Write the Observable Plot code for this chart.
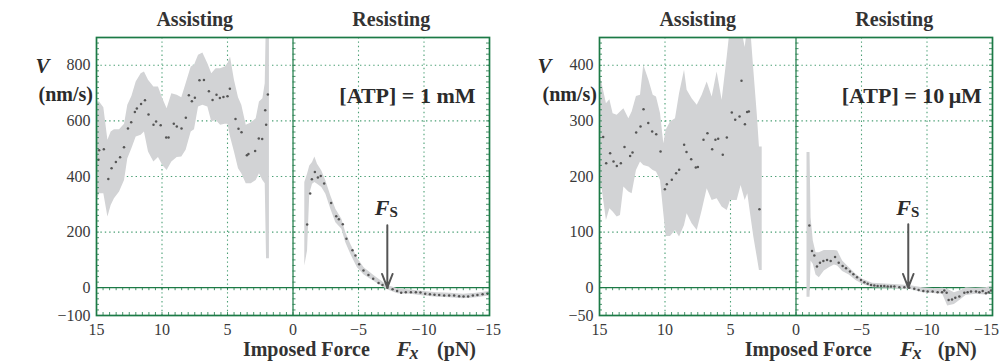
<!DOCTYPE html>
<html><head><meta charset="utf-8">
<script src="https://cdn.jsdelivr.net/npm/d3@7"></script>
<script src="https://cdn.jsdelivr.net/npm/@observablehq/plot@0.6"></script>
<style>
body{margin:0;background:#fff;}
#wrap{position:relative;width:1001px;height:362px;overflow:hidden;background:#fff;}
#p1{position:absolute;left:0;top:0;}
#p2{position:absolute;left:500px;top:0;}
svg, svg text{font-family:"Liberation Serif","Times New Roman",serif !important;}
</style></head><body><div id="wrap"><div id="p1"></div><div id="p2"></div></div>
<script>
// ---------- shared axis ticks ----------
const xTicks = [15, 10, 5, 0, -5, -10, -15];
const xGrid = [10, 5, -5, -10];
const regionLabels = ["Assisting", "Resisting"];
const regionF = [7.5, -7.5];

// ---------- [ATP] = 1 mM ----------
const mM_yTicks = [-100, 0, 200, 400, 600, 800];
const mM_yGrid = [200, 400, 600, 800];
const mM_ptsF = [14.85,14.80,14.44,14.10,13.85,13.52,13.20,12.90,12.60,12.35,12.07,11.92,11.60,11.30,11.03,10.65,10.45,10.10,9.68,9.50,9.10,8.87,8.51,8.18,7.95,7.72,7.49,7.14,6.80,6.42,6.14,5.84,5.58,5.31,5.00,4.82,4.39,4.16,3.93,3.52,3.40,2.89,2.61,2.35,2.12,2.05,1.92,
  -1.08,-1.31,-1.44,-1.67,-1.90,-2.12,-2.38,-2.91,-3.30,-3.50,-3.80,-4.08,-4.54,-4.77,-5.05,-5.38,-5.76,-6.12,-6.53,-6.83,-7.21,-7.60,-7.95,-8.26,-8.61,-9.00,-9.38,-9.73,-10.09,-10.45,-10.80,-11.16,-11.54,-11.92,-12.30,-12.68,-13.02,-13.37,-13.73,-14.08,-14.47,-14.85];
const mM_ptsV = [460,494,498,391,430,452,469,505,573,595,632,645,661,674,623,586,598,584,540,540,590,580,573,611,692,671,683,746,747,707,675,694,682,686,689,716,607,572,559,476,481,492,537,535,638,586,695,
  227,339,390,416,396,402,375,305,257,246,228,176,135,116,84,62,46,32,17,10,0,-6,-12,-18,-16,-16,-16,-17,-22,-24,-25,-26,-28,-28,-28,-31,-32,-32,-28,-26,-24,-22];
const mM_bandAF  = [15.0,14.77,14.44,14.13,13.88,13.63,13.24,12.86,12.61,12.30,11.97,11.59,11.34,11.03,10.62,10.27,9.94,9.61,9.25,8.84,8.49,8.16,7.77,7.52,7.21,6.88,6.50,6.20,5.87,5.53,5.18,4.97,4.77,4.47,4.16,3.91,3.57,3.19,2.81,2.56,2.30,2.12,2.02,1.80];
const mM_bandALo = [308,338,338,254,296,320,344,386,464,500,542,548,560,488,452,468,440,422,452,468,470,494,560,568,650,656,650,596,602,584,588,588,542,488,428,410,374,374,386,410,386,374,104,104];
const mM_bandAHi = [668,668,647,530,560,568,568,588,656,688,740,770,776,746,722,722,680,644,698,692,683,734,794,800,836,844,806,770,788,788,794,806,830,746,683,656,584,592,608,668,680,734,1000,1000];
const mM_bandRF  = [-0.90,-1.11,-1.28,-1.49,-1.67,-1.87,-2.20,-2.51,-2.89,-3.27,-3.73,-4.03,-4.41,-4.92,-5.43,-6.20,-7.21,-8.0,-9.0,-10.0,-11.0,-12.0,-13.0,-14.0,-15.0];
const mM_bandRLo = [78,132,336,372,378,372,360,336,282,234,210,162,120,72,46,22,-7,-22,-24,-30,-34,-36,-40,-36,-30];
const mM_bandRHi = [378,408,438,450,470,444,420,384,330,282,246,198,156,106,72,43,8,-4,-8,-14,-18,-20,-24,-20,-14];
const mM_fs = [{f: -7.2, top: 225}];

// ---------- [ATP] = 10 µM ----------
const uM_yTicks = [-50, 0, 100, 200, 300, 400];
const uM_yGrid = [100, 200, 300, 400];
const uM_ptsF = [14.72,14.49,14.19,13.93,13.68,13.37,13.09,12.66,12.48,12.20,11.87,11.64,11.28,10.98,10.67,10.34,10.01,9.86,9.48,9.15,8.92,8.54,8.36,8.00,7.65,7.49,7.06,6.76,6.40,6.15,5.94,5.59,5.28,4.90,4.64,4.31,4.16,3.90,3.73,3.60,2.79,
  -1.02,-1.22,-1.40,-1.60,-1.83,-2.09,-2.37,-2.65,-2.98,-3.26,-3.56,-3.82,-4.12,-4.38,-4.66,-4.96,-5.22,-5.47,-5.73,-5.98,-6.23,-6.49,-6.74,-7.00,-7.25,-7.51,-7.89,-8.27,-8.65,-9.03,-9.36,-9.72,-10.05,-10.43,-10.81,-11.15,-11.32,-11.50,-11.65,-11.91,-12.16,-12.47,-12.85,-13.10,-13.36,-13.74,-14.00,-14.25,-14.50,-14.71,-14.89];
const uM_ptsV = [271,224,242,227,219,224,253,237,243,279,290,321,296,281,276,245,177,186,194,206,212,257,244,231,216,217,266,278,249,266,268,239,270,315,302,308,372,294,316,317,141,
  112,66,58,38,45,48,50,48,55,45,39,35,29,24,19,14,10,7,5,4,3,3,3,2,2,2,1,1,0,-2,-4,-6,-7,-7,-8,-8,-5,-9,-22,-21,-18,-16,-9,-8,-7,-7,-8,-6,-10,-8,-5];
const uM_bandAF  = [15.0,14.8,14.47,14.21,13.96,13.65,13.4,13.14,12.76,12.51,12.18,11.87,11.62,11.23,10.9,10.65,10.34,10.09,9.91,9.58,9.2,8.89,8.51,8.31,7.93,7.54,7.16,6.78,6.4,6.02,5.64,5.25,5.0,4.49,4.19,3.88,3.68,3.47,3.22,2.96,2.79,2.58];
const uM_bandALo = [181,178,121,142,136,127,130,181,172,169,211,226,220,217,211,208,193,133,92,92,103,91,112,133,115,103,139,178,157,160,145,139,157,157,184,157,169,133,91,55,31,31];
const uM_bandAHi = [385,367,331,338,313,310,316,322,304,316,344,346,400,373,346,343,313,259,283,298,304,349,391,355,340,328,346,370,343,388,337,415,470,470,470,432,470,470,391,313,253,253];
const uM_bandRF  = [-0.84,-1.07,-1.15,-1.32,-1.53,-1.78,-2.16,-2.54,-2.93,-3.18,-3.56,-4.07,-4.58,-5.09,-5.85,-7.12,-8.65,-9.67,-10.69,-11.2,-11.58,-12.09,-12.6,-12.98,-13.74,-14.5,-15.0];
const uM_bandRLo = [-17,-17,48,42,23,18,30,36,41,39,29,23,13,6,0,-1,-3,-9,-11,-12,-33,-30,-21,-14,-12,-13,-11];
const uM_bandRHi = [243,243,126,84,63,63,67,67,67,66,48,36,24,15,8,6,4,0,-2,-1,-3,-9,-5,0,-1,0,3];
const uM_fs = [{f: -8.57, top: 114}];

// ---------- drawing ----------
const serif = "Liberation Serif, Times New Roman, serif";
const green = "#1c7a46", gridGreen = "#4a9f74", bandFill = "#d2d3d5", ink = "#2b2b2b";
const fmt = d => d < 0 ? "\u2212" + Math.abs(d) : String(d);
const rows = (F, A, B) => F.map((f, i) => ({f, a: A[i], b: B ? B[i] : undefined}));

function panel(c) {
  const h = 362, mt = 37, mb = 47;
  const [y0, y1] = c.yDomain;
  const uy = (y1 - y0) / (h - mt - mb);
  const ux = 30 / (c.width - c.ml - c.mr);
  const tl = 3;
  const xMinor = d3.range(-15, 15.001, 0.5);
  const yMinor = d3.range(y0, y1 + 0.001, c.yMinorStep);
  const pts = rows(c.ptsF, c.ptsV);
  const bandA = rows(c.bandAF, c.bandALo, c.bandAHi);
  const bandR = rows(c.bandRF, c.bandRLo, c.bandRHi);
  const inner = xTicks.filter(t => t !== -15);
  const last = xTicks.filter(t => t === -15);
  return Plot.plot({
    width: c.width, height: h,
    marginLeft: c.ml, marginRight: c.mr, marginTop: mt, marginBottom: mb,
    x: {domain: [15, -15], axis: null},
    y: {domain: c.yDomain, axis: null},
    style: {fontFamily: serif, fontSize: "16px", color: "#3a3a3a", background: "transparent", overflow: "visible"},
    marks: [
      Plot.ruleY(c.yGrid, {stroke: gridGreen, strokeDasharray: "1.4,3", strokeWidth: 1.1}),
      Plot.ruleX(xGrid, {stroke: gridGreen, strokeDasharray: "1.4,3", strokeWidth: 1.1}),
      Plot.ruleY([0], {stroke: green, strokeWidth: 1.2}),
      Plot.ruleX([0], {stroke: green, strokeWidth: 1.2}),
      Plot.ruleX(xMinor, {y1: 0, y2: -tl * uy, stroke: green, strokeWidth: 0.8}),
      Plot.ruleY(yMinor, {x1: 0, x2: -tl * ux, stroke: green, strokeWidth: 0.8}),
      Plot.areaY(bandA, {x: "f", y1: "a", y2: "b", fill: bandFill, clip: true}),
      Plot.areaY(bandR, {x: "f", y1: "a", y2: "b", fill: bandFill, clip: true}),
      Plot.dot(pts, {x: "f", y: "a", r: 1.25, fill: "#555", stroke: null}),
      Plot.ruleX(xMinor, {y1: y0, y2: y0 + tl * uy, stroke: green, strokeWidth: 0.8}),
      Plot.ruleY(yMinor, {x1: 15, x2: 15 - tl * ux, stroke: green, strokeWidth: 0.8}),
      Plot.ruleY(yMinor, {x1: -15, x2: -15 + tl * ux, stroke: green, strokeWidth: 0.8}),
      Plot.frame({stroke: green, strokeWidth: 1.7}),
      Plot.text(inner, {x: d => d, text: d => fmt(d), frameAnchor: "bottom", dy: 8, lineAnchor: "top", fontSize: 16, fontFamily: serif, fill: "#3a3a3a"}),
      Plot.text(last, {x: d => d, text: d => fmt(d), frameAnchor: "bottom", dy: 8, dx: c.lastTickDx, lineAnchor: "top", fontSize: 16, fontFamily: serif, fill: "#3a3a3a"}),
      Plot.text(c.yTicks, {y: d => d, text: d => fmt(d), frameAnchor: "left", dx: -6, textAnchor: "end", lineAnchor: "middle", fontSize: 16, fontFamily: serif, fill: "#3a3a3a"}),
      Plot.arrow(c.fs, {x1: "f", x2: "f", y1: "top", y2: 0, stroke: "#555", strokeWidth: 2, headLength: 11, headAngle: 42}),
      Plot.text(c.fs, {x: d => d.f + c.fsLabel.dx, y: d => d.top + c.fsLabel.dyF, text: () => "F", textAnchor: "end", lineAnchor: "bottom", fontWeight: "bold", fontStyle: "italic", fontSize: 22, fontFamily: serif, fill: ink}),
      Plot.text(c.fs, {x: d => d.f + c.fsLabel.dx, y: d => d.top + c.fsLabel.dyS, text: () => "S", textAnchor: "start", lineAnchor: "bottom", fontWeight: "bold", fontSize: 15, fontFamily: serif, fill: ink}),
      Plot.text(regionLabels, {x: regionF, text: d => d, frameAnchor: "top", lineAnchor: "bottom", dy: -12, fontWeight: "bold", fontSize: 20, fontFamily: serif, fill: "#333"}),
      Plot.text([c.atp], {x: c.atpX, y: c.atpY, text: d => d, textAnchor: "end", lineAnchor: "bottom", fontWeight: "bold", fontSize: 22, fontFamily: serif, fill: ink}),
      Plot.text(["V"], {frameAnchor: "top-left", dx: c.vdx, dy: 35, lineAnchor: "bottom", fontWeight: "bold", fontStyle: "italic", fontSize: 21, fontFamily: serif, fill: ink}),
      Plot.text(["(nm/s)"], {frameAnchor: "top-left", dx: c.udx, dy: 63, lineAnchor: "bottom", fontWeight: "bold", fontSize: 20, fontFamily: serif, fill: ink}),
      Plot.text(["Imposed Force"], {x: c.xl[0], frameAnchor: "bottom", dy: 40, lineAnchor: "bottom", textAnchor: "end", fontWeight: "bold", fontSize: 20, fontFamily: serif, fill: "#333"}),
      Plot.text(["F"], {x: c.xl[1], frameAnchor: "bottom", dy: 40, lineAnchor: "bottom", textAnchor: "start", fontWeight: "bold", fontStyle: "italic", fontSize: 22, fontFamily: serif, fill: "#333"}),
      Plot.text(["x"], {x: c.xl[2], frameAnchor: "bottom", dy: 43, lineAnchor: "bottom", textAnchor: "start", fontWeight: "bold", fontStyle: "italic", fontSize: 18, fontFamily: serif, fill: "#333"}),
      Plot.text(["(pN)"], {x: c.xl[3], frameAnchor: "bottom", dy: 40, lineAnchor: "bottom", textAnchor: "start", fontWeight: "bold", fontSize: 20, fontFamily: serif, fill: "#333"})
    ]
  });
}

document.getElementById("p1").append(panel({
  width: 500, ml: 96, mr: 11, yDomain: [-100, 900], yTicks: mM_yTicks, yGrid: mM_yGrid, yMinorStep: 20,
  ptsF: mM_ptsF, ptsV: mM_ptsV,
  bandAF: mM_bandAF, bandALo: mM_bandALo, bandAHi: mM_bandAHi,
  bandRF: mM_bandRF, bandRLo: mM_bandRLo, bandRHi: mM_bandRHi,
  fs: mM_fs, fsLabel: {dx: -0.17, dyF: 36, dyS: 29},
  atp: "[ATP] = 1 mM", atpX: -13.93, atpY: 665, lastTickDx: -1,
  vdx: -61, udx: -58, xl: [-5.86, -7.9, -8.9, -11.0]
}));
document.getElementById("p2").append(panel({
  width: 501, ml: 99, mr: 9, yDomain: [-50, 450], yTicks: uM_yTicks, yGrid: uM_yGrid, yMinorStep: 10,
  ptsF: uM_ptsF, ptsV: uM_ptsV,
  bandAF: uM_bandAF, bandALo: uM_bandALo, bandAHi: uM_bandAHi,
  bandRF: uM_bandRF, bandRLo: uM_bandRLo, bandRHi: uM_bandRHi,
  fs: uM_fs, fsLabel: {dx: -0.2, dyF: 17, dyS: 13},
  atp: "[ATP] = 10\u2009\u03bcM", atpX: -14.19, atpY: 333, lastTickDx: -6,
  vdx: -62, udx: -57, xl: [-5.77, -7.93, -8.9, -10.83]
}));
</script>
</body></html>
